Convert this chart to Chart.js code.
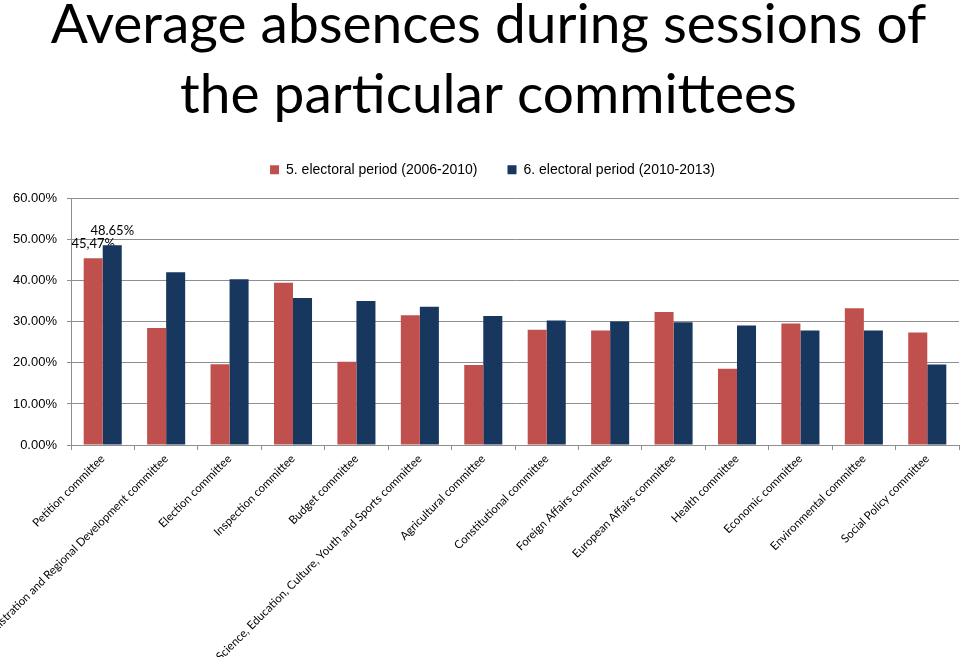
<!DOCTYPE html>
<html>
<head>
<meta charset="utf-8">
<script src="https://cdn.jsdelivr.net/npm/chart.js@4/dist/chart.umd.min.js"></script>
<style>
html, body { margin: 0; padding: 0; background: #fff; }
#wrap { width: 960px; height: 657px; overflow: hidden; }
</style>
</head>
<body>
<div id="wrap"><canvas id="absenceChart" width="960" height="657"></canvas></div>
<script>
const committees = [
    'Petition committee',
    'Public Administration and Regional Development committee',
    'Election committee',
    'Inspection committee',
    'Budget committee',
    'Science, Education, Culture, Youth and Sports committee',
    'Agricultural committee',
    'Constitutional committee',
    'Foreign Affairs committee',
    'European Affairs committee',
    'Health committee',
    'Economic committee',
    'Environmental committee',
    'Social Policy committee'
];

const period5 = [45.47, 28.5, 19.7, 39.5, 20.3, 31.6, 19.5, 28.1, 27.9, 32.4, 18.6, 29.6, 33.3, 27.4];
const period6 = [48.65, 42.1, 40.4, 35.8, 35.1, 33.7, 31.4, 30.3, 30.1, 29.9, 29.1, 27.9, 27.9, 19.6];

// value labels shown in the original (only on the first group)
const labelsPeriod5 = ['45,47%'];
const labelsPeriod6 = ['48.65%'];

const seriesNames = ['5. electoral period (2006-2010)', '6. electoral period (2010-2013)'];
const chartTitle = ['Average absences during sessions of', 'the particular committees'];

const barLabelPlugin = {
    id: 'barLabels',
    beforeDatasetsDraw(chart) {
        const ctx = chart.ctx;
        ctx.save();
        ctx.font = '13px Lato';
        ctx.fillStyle = '#000';
        ctx.textAlign = 'center';
        ctx.textBaseline = 'alphabetic';
        [labelsPeriod5, labelsPeriod6].forEach((texts, d) => {
            const meta = chart.getDatasetMeta(d);
            texts.forEach((t, i) => {
                if (!t) return;
                const bar = meta.data[i];
                ctx.fillText(t, bar.x, bar.y - 10);
            });
        });
        ctx.restore();
    }
};

// the title and legend sit a little right of centre in the original
const headerShiftPlugin = {
    id: 'headerShift',
    afterLayout(chart) {
        chart.titleBlock.left += 9;
        chart.titleBlock.right += 9;
        chart.legend.left += 13;
        chart.legend.right += 13;
    }
};

const ctx = document.getElementById('absenceChart').getContext('2d');
new Chart(ctx, {
    type: 'bar',
    data: {
        labels: committees,
        datasets: [
            {
                label: seriesNames[0],
                data: period5,
                backgroundColor: '#C0504D',
                categoryPercentage: 0.6,
                barPercentage: 1.0
            },
            {
                label: seriesNames[1],
                data: period6,
                backgroundColor: '#17375E',
                categoryPercentage: 0.6,
                barPercentage: 1.0
            }
        ]
    },
    options: {
        responsive: false,
        animation: false,
        layout: { padding: { left: 0, right: 1, top: 0, bottom: 0 } },
        plugins: {
            title: {
                display: true,
                text: chartTitle,
                color: '#000',
                font: { family: 'Lato', size: 55, weight: 'normal', lineHeight: 1.27 },
                padding: { top: -10, bottom: 3 }
            },
            // empty spacer between legend and plot
            subtitle: {
                display: true,
                text: ' ',
                weight: 500,
                font: { size: 1, lineHeight: 1 },
                padding: { top: 0, bottom: 11 }
            },
            legend: {
                display: true,
                labels: {
                    color: '#000',
                    font: { family: 'Liberation Sans', size: 14 },
                    boxWidth: 9,
                    boxHeight: 9,
                    padding: 30
                }
            },
            tooltip: { enabled: false }
        },
        scales: {
            x: {
                grid: {
                    display: true,
                    drawOnChartArea: false,
                    color: '#8E8E8E',
                    tickLength: 5
                },
                border: { color: '#8E8E8E' },
                ticks: {
                    color: '#000',
                    font: { family: 'Lato', size: 11.5 },
                    autoSkip: false,
                    minRotation: 45,
                    maxRotation: 45,
                    padding: 2
                },
                afterFit(scale) { scale.height = 212; }
            },
            y: {
                min: 0,
                max: 60,
                ticks: {
                    stepSize: 10,
                    color: '#000',
                    font: { family: 'Liberation Sans', size: 13 },
                    padding: 10,
                    callback: v => v.toFixed(2) + '%'
                },
                grid: { color: '#8E8E8E', tickLength: 4 },
                border: { color: '#8E8E8E' },
                afterFit(scale) { scale.width = 71; }
            }
        }
    },
    plugins: [barLabelPlugin, headerShiftPlugin]
});
</script>
</body>
</html>
